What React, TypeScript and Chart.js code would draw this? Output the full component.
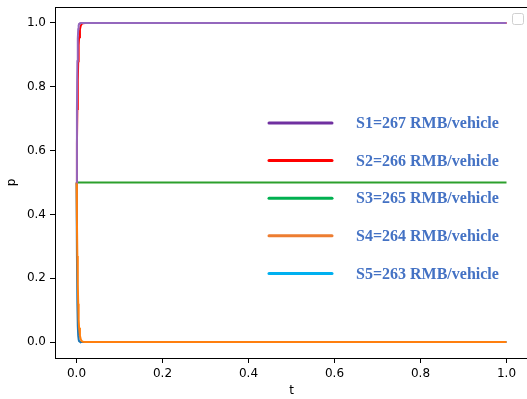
import React, { useEffect, useRef } from "react";
import { Chart, registerables } from "chart.js";

Chart.register(...registerables);

const tValues = [0, 0.001, 0.002, 0.003, 0.004, 0.005, 0.006, 0.008, 0.01, 0.012, 0.015, 0.02, 0.025, 0.03, 0.04, 0.05, 0.1, 0.2, 0.3, 0.4, 0.5, 0.6, 0.7, 0.8, 0.9, 1.0];

const s1Values = [0.5, 0.73, 0.88, 0.95, 0.98, 0.992, 0.997, 0.999, 1, 1, 1, 1, 1, 1, 1, 1, 1, 1, 1, 1, 1, 1, 1, 1, 1, 1];
const s2Values = [0.5, 0.62, 0.73, 0.82, 0.88, 0.93, 0.955, 0.98, 0.992, 0.997, 0.999, 1, 1, 1, 1, 1, 1, 1, 1, 1, 1, 1, 1, 1, 1, 1];
const s3Values = [0.5, 0.5, 0.5, 0.5, 0.5, 0.5, 0.5, 0.5, 0.5, 0.5, 0.5, 0.5, 0.5, 0.5, 0.5, 0.5, 0.5, 0.5, 0.5, 0.5, 0.5, 0.5, 0.5, 0.5, 0.5, 0.5];
const s4Values = [0.5, 0.38, 0.27, 0.18, 0.12, 0.07, 0.045, 0.02, 0.008, 0.003, 0.001, 0, 0, 0, 0, 0, 0, 0, 0, 0, 0, 0, 0, 0, 0, 0];
const s5Values = [0.5, 0.27, 0.12, 0.05, 0.02, 0.008, 0.003, 0.001, 0, 0, 0, 0, 0, 0, 0, 0, 0, 0, 0, 0, 0, 0, 0, 0, 0, 0];

const seriesLabels = ["S1=267 RMB/vehicle", "S2=266 RMB/vehicle", "S3=265 RMB/vehicle", "S4=264 RMB/vehicle", "S5=263 RMB/vehicle"];
const xTicks = [0, 0.2, 0.4, 0.6, 0.8, 1.0];
const yTicks = [0, 0.2, 0.4, 0.6, 0.8, 1.0];

const lineColors = ["#9467bd", "#ff0000", "#2ca02c", "#ff7f0e", "#1f77b4"];
const legendColors = ["#7030A0", "#FF0000", "#00B050", "#ED7D31", "#00B0F0"];
const drawOrder = [1, 3, 5, 2, 4];

const framePlugin = {
  id: "frameAndLegend",
  afterDatasetsDraw(chart: any) {
    const { ctx, chartArea } = chart;
    ctx.save();
    ctx.strokeStyle = "#000";
    ctx.lineWidth = 1;
    ctx.beginPath();
    ctx.moveTo(chartArea.left, chartArea.top + 0.5);
    ctx.lineTo(chartArea.right, chartArea.top + 0.5);
    ctx.lineTo(chartArea.right, chartArea.bottom);
    ctx.stroke();

    ctx.strokeStyle = "#d0d0d0";
    ctx.fillStyle = "rgba(255,255,255,0.8)";
    ctx.beginPath();
    (ctx as any).roundRect(512.5, 13.5, 11, 11, 2);
    ctx.fill();
    ctx.stroke();

    const x1 = 269, x2 = 332, tx = 356, y0 = 123, dy = 37.6;
    ctx.font = "bold 16px 'Liberation Serif', 'Times New Roman', serif";
    ctx.textBaseline = "middle";
    ctx.textAlign = "left";
    seriesLabels.forEach((label, i) => {
      const y = y0 + i * dy;
      ctx.strokeStyle = legendColors[i];
      ctx.lineWidth = 3;
      ctx.lineCap = "round";
      ctx.beginPath();
      ctx.moveTo(x1, y);
      ctx.lineTo(x2, y);
      ctx.stroke();
      ctx.fillStyle = "#4472C4";
      ctx.fillText(label, tx, y + 1);
    });
    ctx.restore();
  },
};

export default function App() {
  const canvasRef = useRef<HTMLCanvasElement | null>(null);

  useEffect(() => {
    document.body.style.margin = "0";
    const canvas = canvasRef.current;
    if (!canvas) return;
    const all = [s1Values, s2Values, s3Values, s4Values, s5Values];
    const chart = new Chart(canvas, {
      type: "line",
      data: {
        datasets: all.map((vals, i) => ({
          label: seriesLabels[i],
          data: tValues.map((t, j) => ({ x: t, y: vals[j] })),
          borderColor: lineColors[i],
          backgroundColor: lineColors[i],
          borderWidth: 2,
          pointRadius: 0,
          tension: 0,
          fill: false,
          order: drawOrder[i],
        })),
      },
      options: {
        animation: false,
        responsive: false,
        events: [],
        layout: { padding: { top: 7, right: 2, left: 0, bottom: 0 } },
        plugins: { legend: { display: false }, tooltip: { enabled: false } },
        scales: {
          x: {
            type: "linear",
            min: -0.05,
            max: 1.05,
            afterBuildTicks: (s: any) => { s.ticks = xTicks.map((v) => ({ value: v })); },
            afterFit: (s: any) => { s.height = 41; s.paddingLeft = 0; s.paddingRight = 0; },
            ticks: {
              color: "#000",
              padding: 4,
              maxRotation: 0,
              font: { family: "DejaVu Sans", size: 12 },
              callback: (v: any) => Number(v).toFixed(1),
            },
            grid: { drawOnChartArea: false, drawTicks: true, tickLength: 5, color: "#000" },
            border: { display: true, color: "#000", width: 1 },
            title: { display: true, text: "t", color: "#000", font: { family: "DejaVu Sans", size: 12 }, padding: { top: 0, bottom: 1 } },
          },
          y: {
            type: "linear",
            min: -0.05,
            max: 1.05,
            afterBuildTicks: (s: any) => { s.ticks = yTicks.map((v) => ({ value: v })); },
            afterFit: (s: any) => { s.width = 55; s.paddingTop = 0; s.paddingBottom = 0; },
            ticks: {
              color: "#000",
              padding: 4,
              font: { family: "DejaVu Sans", size: 12 },
              callback: (v: any) => Number(v).toFixed(1),
            },
            grid: { drawOnChartArea: false, drawTicks: true, tickLength: 5, color: "#000" },
            border: { display: true, color: "#000", width: 1 },
            title: { display: true, text: "p", color: "#000", font: { family: "DejaVu Sans", size: 12 }, padding: { top: 5, bottom: 0 } },
          },
        },
      },
      plugins: [framePlugin],
    } as any);
    return () => chart.destroy();
  }, []);

  return (
    <div style={{ width: 527, height: 399, overflow: "hidden", position: "relative" }}>
      <canvas ref={canvasRef} width={530} height={399} style={{ display: "block", width: 530, height: 399 }} />
    </div>
  );
}
